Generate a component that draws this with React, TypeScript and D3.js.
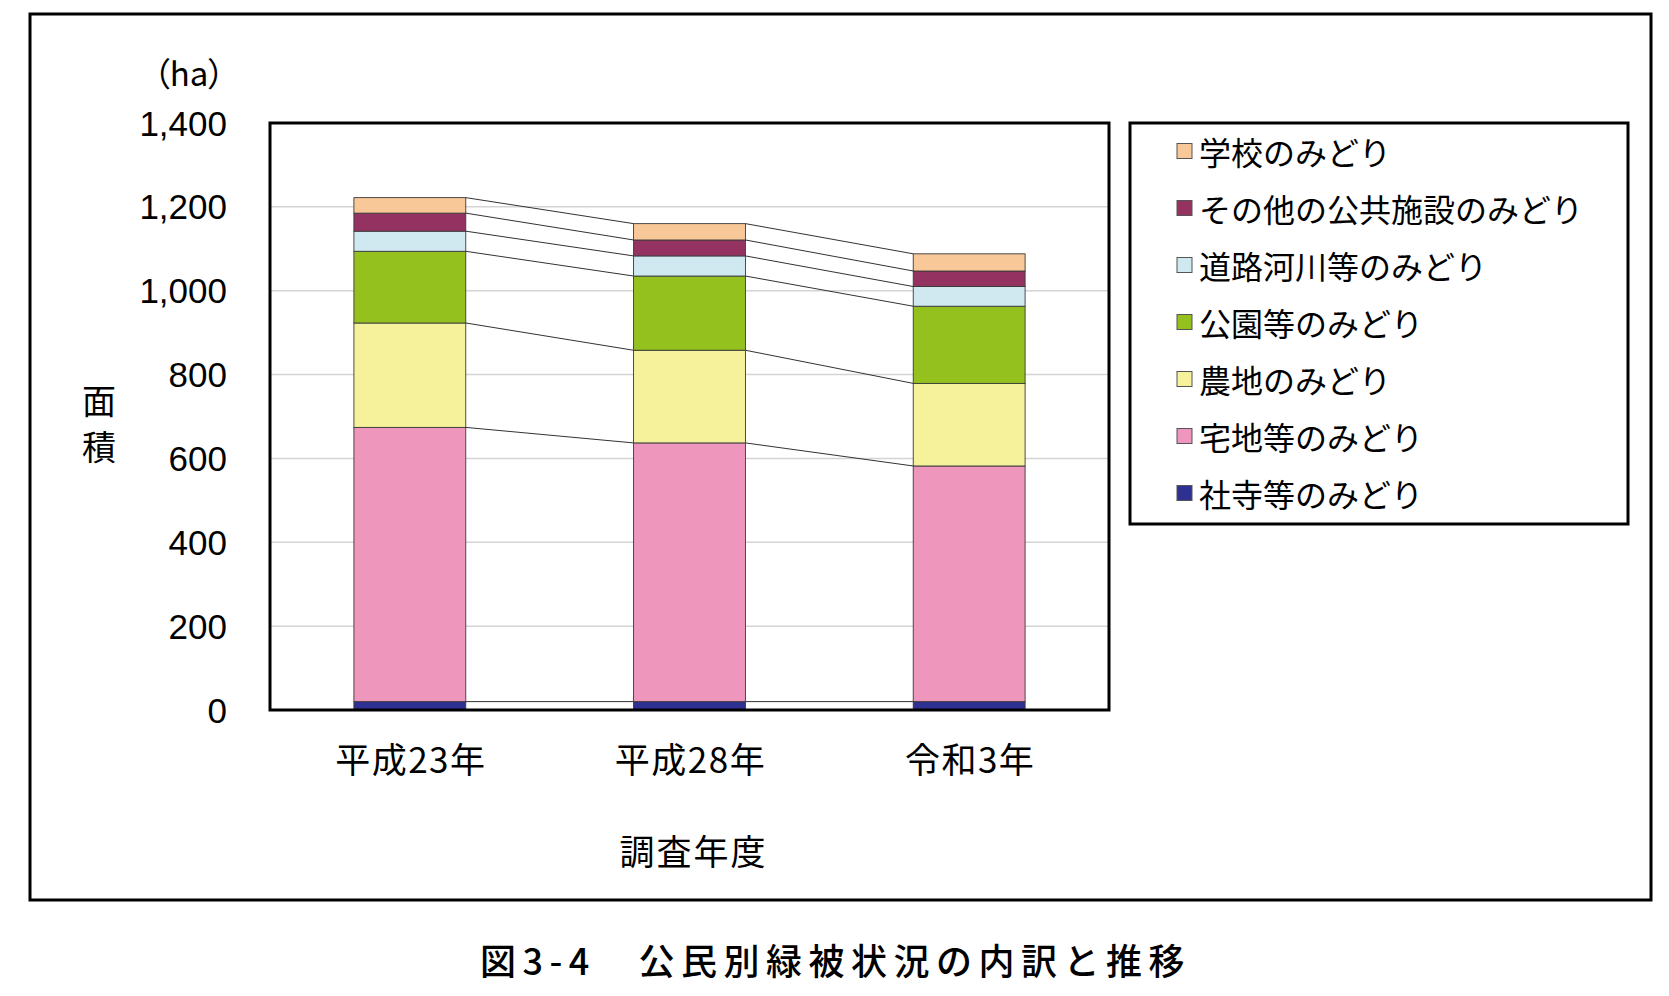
import React from "react";
import * as d3 from "d3";

const years = ["平成23年", "平成28年", "令和3年"];
const seriesNames = [
  "社寺等のみどり",
  "宅地等のみどり",
  "農地のみどり",
  "公園等のみどり",
  "道路河川等のみどり",
  "その他の公共施設のみどり",
  "学校のみどり",
];
const seriesColors = ["#2E3192", "#EE96BC", "#F6F29B", "#95C11F", "#D0E8F0", "#943361", "#F8C898"];
const shajiValues = [20, 20, 20];
const takuchiValues = [654, 617, 562];
const nouchiValues = [249, 221, 197];
const kouenValues = [171, 177, 184];
const dourovalues = [48, 48, 47];
const sonotaValues = [43, 38, 37];
const gakkouValues = [37, 39, 41];
const yTicks = [0, 200, 400, 600, 800, 1000, 1200, 1400];

const allSeries = [shajiValues, takuchiValues, nouchiValues, kouenValues, dourovalues, sonotaValues, gakkouValues];

const W = 1669;
const H = 996;
const plot = { left: 270, right: 1109, top: 123, bottom: 710 };

export default function App() {
  const rows = years.map((y, i) => {
    const r: any = { year: y };
    seriesNames.forEach((s, k) => (r[s] = allSeries[k][i]));
    return r;
  });
  const stacked = d3.stack<any>().keys(seriesNames)(rows);
  const x = d3
    .scaleBand<string>()
    .domain(years)
    .range([plot.left, plot.right])
    .paddingInner(0.6)
    .paddingOuter(0.3);
  const y = d3.scaleLinear().domain([0, 1400]).range([plot.bottom, plot.top]);
  const fmt = d3.format(",");
  const jp = "'Noto Sans CJK JP', 'Noto Sans', sans-serif";
  const num = "'Liberation Sans', Arial, sans-serif";

  const levels: number[][] = [];
  levels.push(stacked[0].map((d) => d[0]));
  stacked.forEach((s) => levels.push(s.map((d) => d[1])));

  const legendOrder = [...seriesNames].reverse();

  return (
    <svg
      width={W}
      height={H}
      style={{ position: "absolute", left: 0, top: 0, background: "#fff" }}
    >
      <rect x={0} y={0} width={W} height={H} fill="#fff" />
      <rect x={30} y={14} width={1621} height={886} fill="none" stroke="#000" strokeWidth={3} />

      {yTicks
        .filter((t) => t > 0 && t < 1400)
        .map((t) => (
          <line key={t} x1={plot.left} x2={plot.right} y1={y(t)} y2={y(t)} stroke="#D4D4D4" strokeWidth={1.5} />
        ))}

      {levels.map((lv, li) =>
        years.slice(0, -1).map((yr, i) => (
          <line
            key={`c${li}-${i}`}
            x1={(x(yr) as number) + x.bandwidth()}
            y1={y(lv[i])}
            x2={x(years[i + 1]) as number}
            y2={y(lv[i + 1])}
            stroke="#333"
            strokeWidth={1}
          />
        ))
      )}

      {stacked.map((s, k) => (
        <g key={s.key} fill={seriesColors[k]}>
          {s.map((d, i) => (
            <rect
              key={i}
              x={x(years[i]) as number}
              y={y(d[1])}
              width={x.bandwidth()}
              height={y(d[0]) - y(d[1])}
              stroke="#3a3a3a"
              strokeWidth={0.9}
            />
          ))}
        </g>
      ))}

      <rect
        x={plot.left}
        y={plot.top}
        width={plot.right - plot.left}
        height={plot.bottom - plot.top}
        fill="none"
        stroke="#000"
        strokeWidth={3}
      />

      {yTicks.map((t) => (
        <text key={t} x={227} y={y(t)} textAnchor="end" dominantBaseline="central" fontFamily={num} fontSize={35} fill="#000">
          {fmt(t)}
        </text>
      ))}
      <text x={189} y={72} textAnchor="middle" dominantBaseline="central" fontFamily={jp} fontSize={33} fill="#000" style={{ fontFeatureSettings: '"palt"' }}>
        （ha）
      </text>

      <text x={99} y={399} textAnchor="middle" dominantBaseline="central" fontFamily={jp} fontSize={34} fill="#000">面</text>
      <text x={99} y={445} textAnchor="middle" dominantBaseline="central" fontFamily={jp} fontSize={34} fill="#000">積</text>

      {years.map((yr) => (
        <text
          key={yr}
          x={(x(yr) as number) + x.bandwidth() / 2 + 1}
          y={757}
          textAnchor="middle"
          dominantBaseline="central"
          fontFamily={jp}
          fontSize={35}
          fill="#000"
          letterSpacing={1.5}
        >
          {yr}
        </text>
      ))}
      <text x={(plot.left + plot.right) / 2 + 4} y={849} textAnchor="middle" dominantBaseline="central" fontFamily={jp} fontSize={35} fill="#000" letterSpacing={2}>
        調査年度
      </text>

      <rect x={1130} y={123} width={498} height={401} fill="#fff" stroke="#000" strokeWidth={3} />
      {legendOrder.map((name, i) => {
        const k = seriesNames.indexOf(name);
        const cy = 151 + i * 57;
        return (
          <g key={name}>
            <rect x={1177} y={cy - 7.5} width={15} height={15} fill={seriesColors[k]} stroke="#555" strokeWidth={1} />
            <text x={1199} y={cy} dominantBaseline="central" fontFamily={jp} fontSize={32} fill="#000">
              {name}
            </text>
          </g>
        );
      })}

      <text x={480} y={959} dominantBaseline="central" fontFamily={jp} fontSize={36} fontWeight={500} fill="#000" letterSpacing={6.5}>
        図3-4　公民別緑被状況の内訳と推移
      </text>
    </svg>
  );
}
